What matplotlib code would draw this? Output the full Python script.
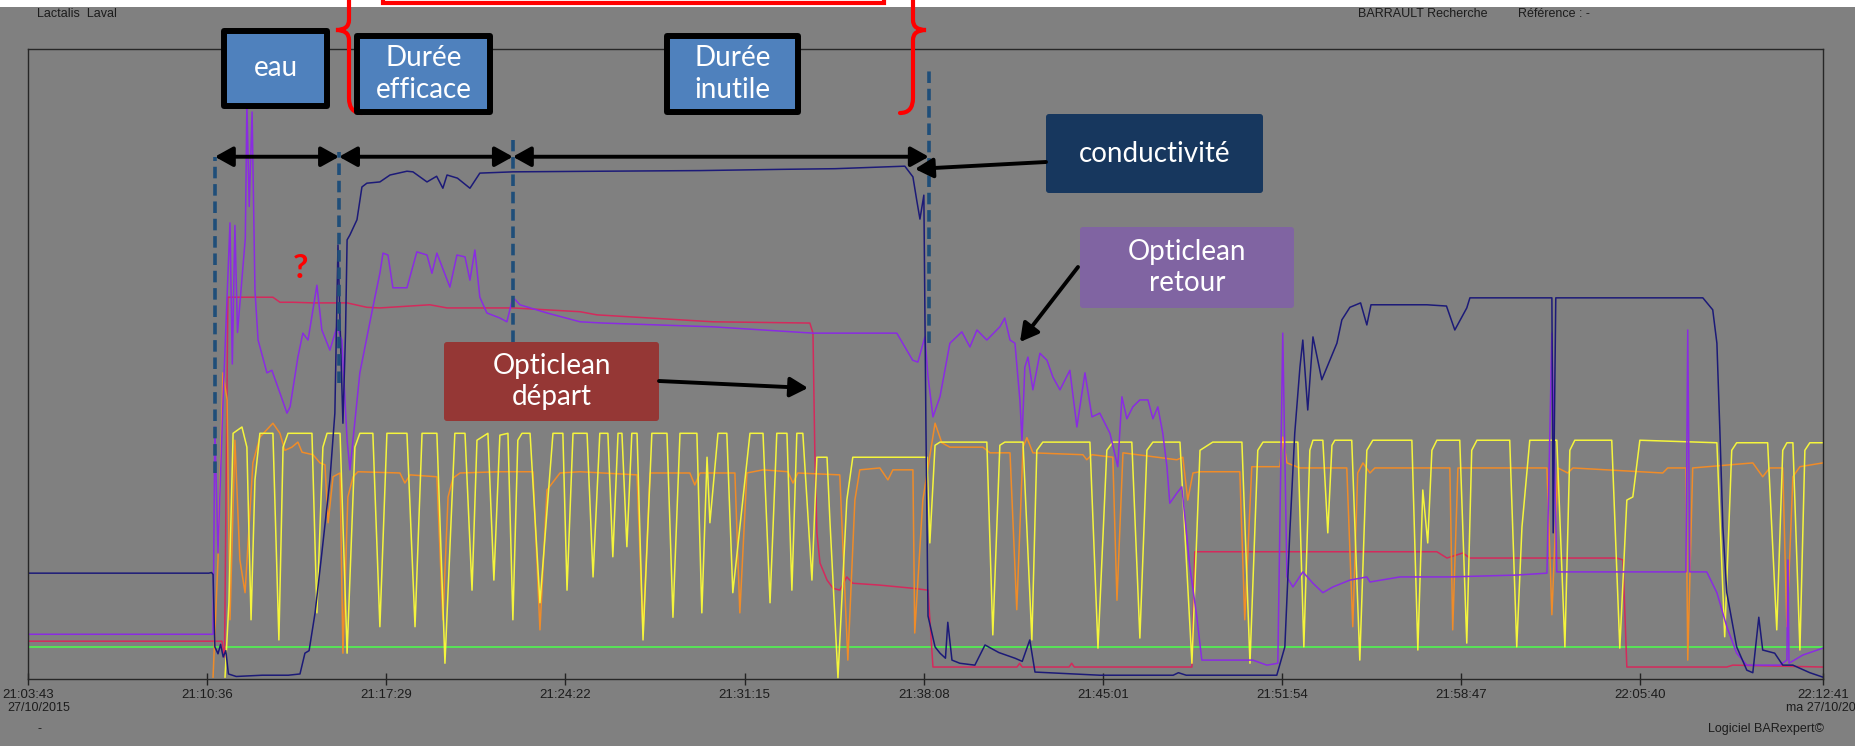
import matplotlib
matplotlib.use("Agg")
import matplotlib.pyplot as plt
from matplotlib.patches import Rectangle, FancyArrowPatch, PathPatch, FancyBboxPatch
from matplotlib.path import Path

# x: minutes after 21:03:43, y: % of recorder scale
tick_labels = ["21:03:43", "21:10:36", "21:17:29", "21:24:22", "21:31:15", "21:38:08",
               "21:45:01", "21:51:54", "21:58:47", "22:05:40", "22:12:41"]

conductivite = [(0, 16.8), (6.95, 16.8), (7.05, 16.9), (7.11, 16.6), (7.18, 5.1), (7.3, 4.0), (7.4, 5.5),
                (7.5, 3.5), (7.6, 4.5), (7.7, 0.8), (8.0, 0.4), (9.0, 0.6), (10.0, 0.6), (10.45, 0.8),
                (10.64, 4.1), (10.8, 4.5), (11.03, 10.5), (11.29, 20.0), (11.6, 31.6), (11.79, 42.2),
                (11.91, 68.9), (12.0, 55.0), (12.1, 40.6), (12.2, 55.0), (12.26, 69.7), (12.37, 70.5),
                (12.64, 72.9), (12.83, 78.1), (13.02, 78.7), (13.52, 78.9), (13.91, 80.0), (14.56, 80.6),
                (14.79, 80.5), (15.33, 78.9), (15.7, 79.8), (15.94, 77.9), (16.1, 80.0), (16.5, 79.5),
                (16.98, 77.9), (17.36, 80.3), (18.63, 80.5), (22.0, 80.6), (25.82, 80.7), (29.0, 80.9),
                (31.0, 81.0), (33.69, 81.4), (34.0, 79.7), (34.15, 75.9), (34.27, 73.0), (34.42, 76.8),
                (34.5, 40.0), (34.58, 10.0), (34.85, 5.1), (35.04, 4.1), (35.25, 3.3), (35.34, 9.0),
                (35.5, 3.0), (35.8, 2.5), (36.38, 2.2), (36.77, 5.4), (37.3, 4.2), (37.92, 3.3),
                (38.2, 2.8), (38.49, 6.2), (38.69, 1.1), (41.18, 0.6), (44.0, 0.6), (44.2, 1.0),
                (44.5, 0.6), (47.98, 0.6), (48.29, 5.1), (48.48, 23.2), (48.67, 39.0), (48.87, 49.5),
                (48.98, 53.8), (49.17, 42.7), (49.37, 54.3), (49.71, 47.5), (50.02, 50.6), (50.29, 53.3),
                (50.48, 57.0), (50.79, 59.0), (51.2, 59.7), (51.44, 56.2), (51.6, 59.4), (53.75, 59.4),
                (54.5, 59.2), (54.82, 55.4), (55.28, 58.9), (55.4, 60.5), (58.55, 60.5), (58.6, 23.2),
                (58.7, 60.5), (64.35, 60.5), (64.73, 58.6), (64.89, 53.3), (65.0, 40.0), (65.12, 24.1),
                (65.27, 13.7), (65.65, 5.1), (66.04, 1.4), (66.27, 1.0), (66.5, 9.8), (66.65, 4.6),
                (67.11, 4.1), (67.42, 2.2), (67.81, 2.2), (68.46, 1.0), (68.96, 0.3)]

retour = [(0, 7.1), (7.11, 7.1), (7.18, 40.0), (7.3, 20.0), (7.5, 45.0), (7.76, 72.4), (7.85, 50.0),
          (7.95, 72.0), (8.05, 55.0), (8.15, 60.0), (8.22, 63.3), (8.35, 70.0), (8.41, 91.3), (8.5, 75.0),
          (8.61, 90.0), (8.72, 61.7), (8.84, 53.8), (9.18, 48.6), (9.37, 49.0), (9.68, 45.4), (9.95, 42.2),
          (10.07, 43.2), (10.37, 51.1), (10.56, 54.9), (10.76, 53.8), (11.1, 62.5), (11.29, 55.4),
          (11.6, 52.2), (11.87, 55.9), (12.06, 53.8), (12.26, 37.9), (12.37, 33.2), (12.75, 48.6),
          (13.25, 59.0), (13.52, 64.4), (13.64, 67.6), (13.83, 67.3), (14.02, 62.1), (14.56, 62.1),
          (14.94, 67.8), (15.33, 67.3), (15.52, 64.4), (15.71, 67.6), (16.21, 62.2), (16.48, 67.3),
          (16.79, 67.0), (16.98, 63.3), (17.17, 68.1), (17.36, 60.6), (17.63, 58.1), (18.13, 57.3),
          (18.4, 56.7), (18.63, 60.6), (18.9, 59.4), (19.94, 58.1), (21.21, 56.7), (22.09, 56.5),
          (26.32, 55.9), (30.16, 54.9), (33.38, 54.9), (33.99, 50.6), (34.19, 50.3), (34.46, 54.3),
          (34.58, 48.0), (34.77, 41.6), (35.04, 44.8), (35.42, 53.3), (35.88, 55.1), (36.19, 52.7),
          (36.46, 55.4), (36.84, 53.8), (37.34, 55.9), (37.53, 57.3), (37.73, 53.8), (37.92, 53.3),
          (38.11, 44.3), (38.19, 37.9), (38.3, 49.5), (38.42, 51.1), (38.61, 45.9), (38.88, 51.7),
          (39.15, 50.6), (39.38, 47.9), (39.65, 45.9), (40.03, 49.0), (40.3, 40.0), (40.61, 48.6),
          (40.88, 41.6), (41.18, 42.2), (41.57, 39.0), (41.87, 33.7), (42.03, 44.8), (42.22, 41.3),
          (42.45, 43.2), (42.72, 44.3), (43.03, 44.3), (43.22, 41.3), (43.41, 43.2), (43.6, 39.0),
          (43.76, 33.7), (43.87, 27.9), (44.14, 29.5), (44.33, 30.5), (44.45, 25.7), (44.64, 17.8),
          (44.91, 9.8), (45.1, 3.0), (46.29, 3.0), (47.06, 3.0), (47.6, 2.2), (48.02, 2.5), (48.21, 54.9),
          (48.37, 16.2), (48.6, 14.6), (48.98, 17.0), (49.37, 15.2), (49.75, 13.7), (50.13, 14.6),
          (50.79, 15.7), (51.44, 16.2), (51.56, 15.4), (52.71, 16.2), (54.63, 16.2), (57.2, 16.5),
          (58.36, 16.8), (58.55, 54.9), (58.74, 17.0), (63.7, 17.0), (63.77, 55.4), (63.85, 17.0),
          (64.5, 17.0), (64.89, 13.7), (65.27, 8.3), (65.65, 4.1), (66.04, 2.2), (67.31, 2.2),
          (67.58, 3.0), (67.62, 18.9), (67.66, 2.5), (68.19, 3.8), (68.96, 4.9)]

depart = [(0, 6.0), (7.11, 6.0), (7.45, 6.0), (7.55, 3.5), (7.68, 60.6), (9.41, 60.6), (9.68, 59.8),
          (10.18, 59.8), (10.95, 59.7), (12.26, 59.7), (13.02, 59.0), (13.52, 58.9), (15.44, 59.4),
          (16.1, 58.9), (18.63, 58.9), (21.21, 58.3), (21.86, 57.8), (26.32, 56.7), (30.04, 56.5),
          (30.16, 54.9), (30.23, 36.3), (30.31, 23.2), (30.43, 18.4), (30.7, 15.7), (30.93, 14.4),
          (31.19, 14.1), (31.46, 16.2), (31.69, 15.2), (32.73, 14.9), (34.0, 14.4), (34.58, 14.1),
          (34.77, 1.9), (38.0, 1.9), (38.1, 2.5), (38.2, 1.9), (40.0, 1.9), (40.1, 2.5), (40.2, 1.9),
          (44.72, 1.9), (44.83, 20.2), (54.13, 20.2), (54.52, 19.2), (55.13, 20.0), (55.4, 19.2),
          (61.05, 19.2), (61.28, 18.9), (61.43, 1.9), (65.27, 1.9), (65.5, 2.2), (68.96, 1.9)]

jaune = [(7.57, 0.3), (7.72, 12.2), (7.88, 39.0), (8.22, 40.0), (8.41, 36.8), (8.57, 9.4), (8.72, 31.6),
         (8.91, 39.0), (9.41, 39.0), (9.64, 6.2), (9.8, 36.8), (9.99, 39.0), (10.91, 39.0), (11.1, 10.5),
         (11.33, 36.8), (11.49, 39.0), (11.99, 39.0), (12.26, 4.1), (12.56, 36.8), (12.75, 39.0),
         (13.25, 39.0), (13.52, 8.3), (13.79, 39.0), (14.56, 39.0), (14.87, 8.3), (15.14, 39.0),
         (15.71, 39.0), (16.02, 2.5), (16.4, 39.0), (16.79, 39.0), (17.06, 14.1), (17.25, 37.9),
         (17.67, 39.0), (17.9, 15.7), (18.13, 38.7), (18.44, 39.0), (18.63, 9.4), (18.82, 37.9),
         (18.98, 39.0), (19.29, 39.0), (19.67, 12.1), (20.17, 39.0), (20.55, 39.0), (20.71, 14.1),
         (20.94, 39.0), (21.48, 39.0), (21.71, 16.2), (21.97, 39.0), (22.28, 39.0), (22.47, 19.4),
         (22.67, 39.0), (22.82, 39.0), (23.01, 21.0), (23.2, 39.0), (23.4, 39.0), (23.63, 6.2),
         (23.97, 39.0), (24.55, 39.0), (24.78, 9.8), (25.05, 39.0), (25.7, 39.0), (25.89, 10.5),
         (26.09, 35.2), (26.2, 24.8), (26.51, 39.0), (26.85, 39.0), (27.08, 13.7), (27.74, 39.0),
         (28.24, 39.0), (28.51, 12.1), (28.77, 39.0), (29.16, 39.0), (29.35, 14.1), (29.54, 39.0),
         (29.77, 39.0), (30.12, 15.7), (30.31, 35.2), (30.7, 35.2), (30.81, 25.2), (31.12, 0.2),
         (31.46, 28.4), (31.69, 35.2), (34.54, 35.2), (34.65, 21.6), (34.85, 37.1), (35.04, 37.6),
         (36.84, 37.6), (37.07, 7.0), (37.34, 37.1), (37.53, 37.6), (38.23, 37.6), (38.57, 6.2),
         (38.76, 36.3), (38.99, 37.6), (40.8, 37.6), (41.11, 4.9), (41.45, 36.3), (41.68, 37.6),
         (42.41, 37.6), (42.72, 6.5), (42.99, 36.3), (43.22, 37.6), (44.26, 37.6), (44.72, 2.5),
         (45.03, 36.3), (45.52, 37.6), (46.64, 37.6), (46.95, 2.5), (47.25, 36.3), (47.45, 37.6),
         (48.79, 37.6), (49.02, 5.1), (49.25, 36.3), (49.37, 37.9), (49.75, 37.9), (49.94, 23.2),
         (50.1, 37.1), (50.21, 37.9), (50.86, 37.9), (51.17, 3.0), (51.44, 36.3), (51.67, 37.9),
         (53.17, 37.9), (53.4, 4.6), (53.59, 30.0), (53.78, 21.6), (53.94, 36.3), (54.13, 37.9),
         (55.01, 37.9), (55.28, 5.7), (55.47, 36.3), (55.67, 37.9), (56.93, 37.9), (57.2, 5.1),
         (57.4, 24.1), (57.7, 37.9), (58.74, 37.9), (59.05, 5.1), (59.24, 36.3), (59.43, 37.9),
         (60.85, 37.9), (61.16, 4.9), (61.43, 28.4), (61.66, 28.9), (61.93, 37.9), (64.89, 37.5),
         (65.19, 6.7), (65.46, 36.3), (65.65, 37.5), (66.84, 37.5), (67.19, 7.8), (67.42, 36.3),
         (67.58, 37.5), (67.81, 37.5), (68.08, 4.6), (68.27, 36.3), (68.46, 37.5), (68.96, 37.5)]

orange = [(7.11, 0.3), (7.3, 18.9), (7.49, 48.6), (7.65, 44.3), (7.76, 9.4), (7.95, 37.9), (8.14, 18.9),
          (8.34, 13.7), (8.64, 34.3), (8.91, 38.4), (9.41, 40.6), (9.68, 39.0), (9.87, 36.3), (10.14, 36.8),
          (10.37, 37.6), (10.53, 36.0), (10.95, 35.6), (11.22, 34.3), (11.41, 34.0), (11.53, 24.8),
          (11.72, 32.1), (11.99, 32.7), (12.1, 4.1), (12.29, 28.9), (12.49, 32.1), (12.68, 32.9),
          (14.29, 32.7), (14.48, 31.1), (14.68, 32.4), (15.71, 32.1), (15.94, 9.4), (16.14, 28.9),
          (16.33, 31.9), (16.6, 32.7), (18.13, 32.9), (19.4, 32.9), (19.67, 7.8), (19.94, 30.0),
          (20.44, 32.7), (21.21, 32.9), (23.4, 32.4), (23.63, 7.3), (23.9, 32.7), (25.43, 32.7),
          (25.62, 30.8), (25.82, 32.7), (27.16, 32.7), (27.35, 10.5), (27.62, 32.7), (28.24, 33.2),
          (29.2, 32.9), (29.39, 31.1), (29.58, 32.7), (31.19, 32.4), (31.5, 3.0), (31.77, 28.4),
          (31.96, 33.2), (32.73, 33.5), (33.04, 31.6), (33.23, 33.2), (34.0, 33.2), (34.07, 7.3),
          (34.38, 28.4), (34.85, 40.6), (35.11, 37.5), (35.42, 36.8), (36.69, 36.8), (36.96, 35.9),
          (37.73, 35.9), (37.99, 11.0), (38.23, 36.8), (38.38, 38.3), (38.61, 35.9), (40.53, 35.6),
          (40.68, 34.8), (40.88, 35.6), (41.68, 35.2), (41.84, 12.5), (42.07, 35.9), (44.14, 34.8),
          (44.37, 35.2), (44.56, 28.4), (44.76, 32.7), (45.03, 32.9), (46.56, 32.9), (46.75, 9.4),
          (47.02, 33.7), (48.1, 33.7), (48.21, 38.4), (48.37, 34.3), (48.87, 33.5), (50.67, 33.5),
          (50.9, 8.3), (51.09, 32.7), (51.29, 34.3), (51.56, 32.7), (51.75, 33.5), (54.63, 33.5),
          (54.74, 7.8), (54.94, 33.5), (58.36, 33.5), (58.55, 10.2), (58.78, 33.5), (59.16, 32.7),
          (59.36, 33.5), (62.81, 32.7), (63.0, 33.5), (63.7, 33.5), (63.77, 3.0), (63.96, 33.5),
          (66.27, 34.3), (66.65, 32.1), (66.92, 33.5), (67.42, 33.5), (67.58, 8.3), (67.81, 32.1),
          (68.08, 33.7), (68.96, 34.3)]

vert = [(0, 5.1), (68.96, 5.1)]

# phases: eau / durée efficace / durée inutile (minutes)
evenements = [7.18, 11.95, 18.63, 34.61]

GRIS = "#808080"
fig = plt.figure(figsize=(18.55, 7.46), dpi=100)
fig.patch.set_facecolor(GRIS)
ax = fig.add_axes([28 / 1855, 67 / 746, 1795 / 1855, 630 / 746])
ax.set_facecolor(GRIS)


def secondes(h):
    a, b, c = (int(v) for v in h.split(":"))
    return a * 3600 + b * 60 + c


t0 = secondes(tick_labels[0])
ax.set_xticks([(secondes(h) - t0) / 60 for h in tick_labels])
ax.set_xticklabels(tick_labels, fontsize=9.5, family="Liberation Sans", color="#1c1c1c")
ax.tick_params(axis="x", direction="inout", length=8, width=1, color="#222222", pad=3)
ax.set_yticks([])
for s in ax.spines.values():
    s.set_color("#262626")
    s.set_linewidth(1.0)
ax.set_xlim(0, (secondes(tick_labels[-1]) - t0) / 60)
ax.set_ylim(0, 100)

series = [(vert, "#4cff4c"), (depart, "#d42a5c"), (orange, "#f08c28"), (jaune, "#f5f53c"),
          (retour, "#8a2be2"), (conductivite, "#1c1a78")]
for data, col in series:
    xs, ys = zip(*data)
    ax.plot(xs, ys, color=col, lw=1.1, solid_joinstyle="round")

# dashed phase limits and double arrows
bornes = [(32.7, 82.9), (47.0, 83.7), (53.5, 85.6), (53.3, 96.8)]
for t, (y0, y1) in zip(evenements, bornes):
    ax.plot([t, t], [y0, y1], color="#1f4e79", lw=2.6, dashes=(3.2, 1.6), clip_on=False, zorder=5)
for a, b in zip(evenements[:-1], evenements[1:]):
    ax.add_patch(FancyArrowPatch((a, 82.9), (b, 82.9), arrowstyle="<|-|>,head_length=0.9,head_width=0.5",
                                 mutation_scale=12, lw=2.8, color="black", shrinkA=0, shrinkB=0,
                                 clip_on=False, zorder=6))

# overlay in pixel units for the slide annotations
ov = fig.add_axes([0, 0, 1, 1])
ov.set_xlim(0, 1855)
ov.set_ylim(746, 0)
ov.axis("off")
ov.patch.set_alpha(0)

ov.add_patch(Rectangle((0, 0), 1855, 7, fc="white", ec="none"))
ov.add_patch(Rectangle((383, -20), 501, 23, fc="white", ec="#ff0000", lw=3))


def accolade(x, pointe, bout):
    verts = [(x, -10), (x, 20), (x, 30), (pointe, 30), (x, 30), (x, 40), (x, 98), (x, 113), (bout, 113)]
    codes = [Path.MOVETO, Path.LINETO, Path.CURVE3, Path.CURVE3, Path.CURVE3, Path.CURVE3,
             Path.LINETO, Path.CURVE3, Path.CURVE3]
    ov.add_patch(PathPatch(Path(verts, codes), fc="none", ec="#ff0000", lw=3, capstyle="round"))


accolade(349, 336, 362)
accolade(913, 926, 900)

police = dict(color="white", family="Lato", ha="center", va="center", linespacing=1.25, fontsize=20)


def boite(x0, y0, x1, y1, couleur, texte, bord=False):
    if bord:
        ov.add_patch(Rectangle((x0 + 3, y0 + 3), x1 - x0 - 6, y1 - y0 - 6, fc=couleur, ec="black",
                               lw=4.3, joinstyle="round"))
    else:
        ov.add_patch(FancyBboxPatch((x0, y0), x1 - x0, y1 - y0, boxstyle="round,pad=0,rounding_size=3",
                                    fc=couleur, ec="none"))
    ov.text((x0 + x1) / 2, (y0 + y1) / 2, texte, **police)


boite(221, 28, 330, 109, "#4f81bd", "eau", bord=True)
boite(354, 33, 493, 115, "#4f81bd", "Durée\nefficace", bord=True)
boite(664, 33, 801, 115, "#4f81bd", "Durée\ninutile", bord=True)
boite(1046, 114, 1263, 193, "#17375e", "conductivité")
boite(1080, 227, 1294, 308, "#8064a2", "Opticlean\nretour")
boite(444, 342, 659, 421, "#953735", "Opticlean\ndépart")

fleche = dict(arrowstyle="-|>,head_length=0.9,head_width=0.5", mutation_scale=12, lw=2.8,
              color="black", shrinkA=0, shrinkB=0)
ov.add_patch(FancyArrowPatch((1046, 162), (915, 169), **fleche))
ov.add_patch(FancyArrowPatch((1078, 267), (1020, 342), **fleche))
ov.add_patch(FancyArrowPatch((659, 381), (808, 388), **fleche))

ov.text(300, 268, "?", color="#ff0000", family="Lato", fontweight="bold", fontsize=24,
        ha="center", va="center")

petit = dict(family="Liberation Sans", fontsize=9, color="#1c1c1c", va="center")
ov.text(37, 14, "Lactalis  Laval", ha="left", **petit)
ov.text(1358, 14, "BARRAULT Recherche", ha="left", **petit)
ov.text(1518, 14, "Référence : -", ha="left", **petit)
ov.text(7, 708, "27/10/2015", ha="left", **petit)
ov.text(40, 729, "-", ha="center", **petit)
ov.text(1856, 708, "ma 27/10/20", ha="right", **petit)
ov.text(1824, 729, "Logiciel BARexpert©", ha="right", **petit)

fig.savefig("out.png", dpi=100, facecolor=fig.get_facecolor())
